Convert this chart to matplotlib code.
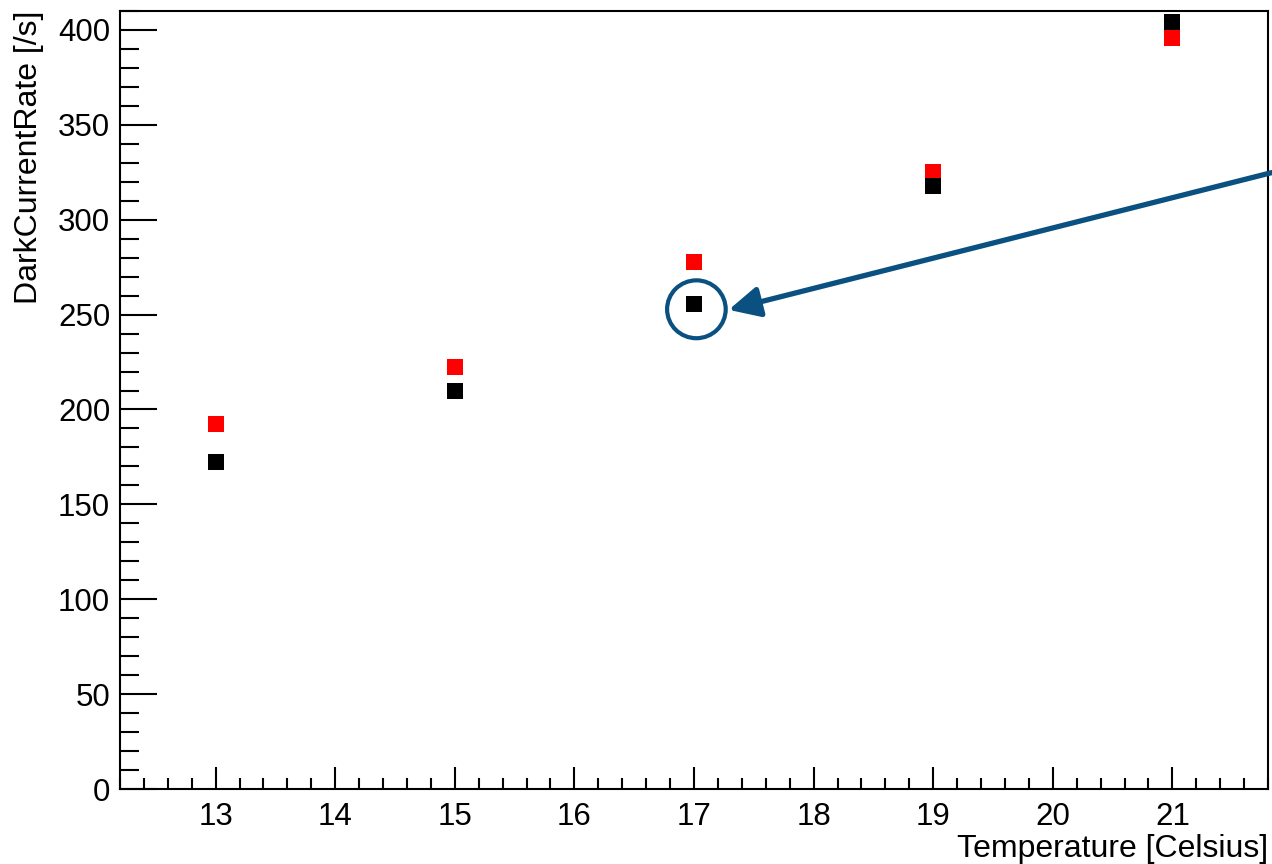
import matplotlib
matplotlib.use("Agg")
import matplotlib.pyplot as plt
from matplotlib.patches import Ellipse
from matplotlib.ticker import MultipleLocator

temps = [13, 15, 17, 19, 21]
rate_red = [192.1, 222.4, 277.8, 325.2, 395.6]
rate_black = [172.5, 209.8, 255.8, 317.9, 404.0]

plt.rcParams["font.family"] = ["Liberation Sans", "DejaVu Sans"]

fig = plt.figure(figsize=(12.72, 8.64), dpi=100)
ax = fig.add_axes([0.0943, 0.0868, 0.9026, 0.9005])

ax.plot(temps, rate_red, "s", color="#ff0000", ms=12, mew=0)
ax.plot(temps, rate_black, "s", color="black", ms=12, mew=0)

ax.set_xlim(12.2, 21.8)
ax.set_ylim(0, 410)

ax.xaxis.set_major_locator(MultipleLocator(1))
ax.xaxis.set_minor_locator(MultipleLocator(0.2))
ax.yaxis.set_major_locator(MultipleLocator(50))
ax.yaxis.set_minor_locator(MultipleLocator(10))

ax.tick_params(axis="both", which="both", direction="in", top=False, right=False,
               width=1.5, labelsize=22.5)
ax.tick_params(axis="x", which="major", length=16, pad=9)
ax.tick_params(axis="x", which="minor", length=8)
ax.tick_params(axis="y", which="major", length=26.5, pad=7)
ax.tick_params(axis="y", which="minor", length=13.5)
for s in ax.spines.values():
    s.set_linewidth(1.5)

ax.set_xlabel("Temperature [Celsius]", fontsize=23, loc="right", labelpad=2)
ax.set_ylabel("DarkCurrentRate [/s]", fontsize=23, loc="top", labelpad=10)

# highlight point at 17 C
blue = "#0a5080"
hx, hy = temps[2], rate_black[2]
ax.add_patch(Ellipse((hx + 0.02, hy - 3), 0.49, 30.5, fill=False,
                     edgecolor=blue, lw=3))
ax.annotate("", xy=(hx + 0.29, hy - 3.3), xycoords="data",
            xytext=(1.0, 0.8003), textcoords="figure fraction",
            arrowprops=dict(arrowstyle="-|>,head_length=0.85,head_width=0.42",
                            color=blue, lw=3.8, mutation_scale=22,
                            shrinkA=0, shrinkB=0),
            annotation_clip=False)

fig.savefig("out.png", dpi=100)
